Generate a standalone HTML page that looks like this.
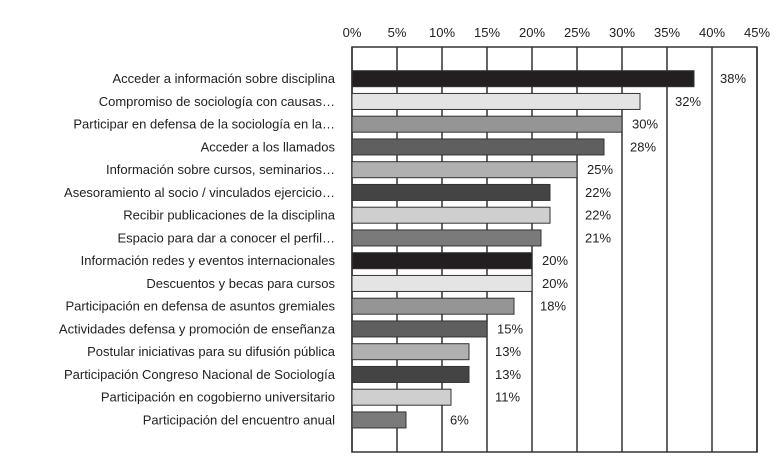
<!DOCTYPE html>
<html><head><meta charset="utf-8"><style>
body{margin:0;background:#fff;}
svg{display:block;font-family:"Liberation Sans",sans-serif;}
</style></head><body>
<svg id="chart" width="778" height="474"></svg>
<script>
const categories=["Acceder a información sobre disciplina","Compromiso de sociología con causas…","Participar en defensa de la sociología en la…","Acceder a los llamados","Información sobre cursos, seminarios…","Asesoramiento al socio / vinculados ejercicio…","Recibir publicaciones de la disciplina","Espacio para dar a conocer el perfil…","Información redes y eventos internacionales","Descuentos y becas para cursos","Participación en defensa de asuntos gremiales","Actividades defensa y promoción de enseñanza","Postular iniciativas para su difusión pública","Participación Congreso Nacional de Sociología","Participación en cogobierno universitario","Participación del encuentro anual"];
const values=[38,32,30,28,25,22,22,21,20,20,18,15,13,13,11,6];
const valueLabels=["38%","32%","30%","28%","25%","22%","22%","21%","20%","20%","18%","15%","13%","13%","11%","6%"];
const ticks=[0,5,10,15,20,25,30,35,40,45];
const tickLabels=["0%","5%","10%","15%","20%","25%","30%","35%","40%","45%"];
const colors=["#231f20","#e4e4e4","#959595","#5f5f5f","#b0b0b0","#444444","#cfcfcf","#7a7a7a"];
const NS="http://www.w3.org/2000/svg";
const svgEl=document.getElementById('chart');
const x0=352,x1=757,plotTop=47,plotBottom=452,maxV=45;
const xS=v=>x0+(v/maxV)*(x1-x0);
const yC=i=>78.7+i*22.75;
function mk(t,a){const e=document.createElementNS(NS,t);for(const k in a)e.setAttribute(k,a[k]);svgEl.appendChild(e);return e;}
const box=mk('rect',{x:x0,y:plotTop,width:x1-x0,height:plotBottom-plotTop,fill:'#fff',stroke:'#333','stroke-width':1.5});


ticks.forEach((t,i)=>{
  const l=mk('line',{x1:xS(t),x2:xS(t),y1:plotTop,y2:plotBottom,stroke:'#333','stroke-width':1.5});
  
  
  const tx=mk('text',{x:xS(t),y:37,'text-anchor':'middle','font-size':13,fill:'#222'});
  tx.textContent=tickLabels[i];
  
  
});
values.forEach((v,i)=>{
  const c=yC(i);
  const r=mk('rect',{x:x0,y:c-8,width:xS(v)-x0,height:16,fill:colors[i%colors.length],stroke:'#333','stroke-width':1});
  
  
  const lab=mk('text',{x:335,y:c+4.5,'text-anchor':'end','font-size':13,fill:'#222'});
  lab.textContent=categories[i];
  
  
  const lx=Math.max(xS(Math.ceil(v/5)*5)+8,xS(v)+10);
  const vl=mk('text',{x:lx,y:c+4.5,'font-size':13,fill:'#222'});
  vl.textContent=valueLabels[i];
  
  
});
</script>
</body></html>
